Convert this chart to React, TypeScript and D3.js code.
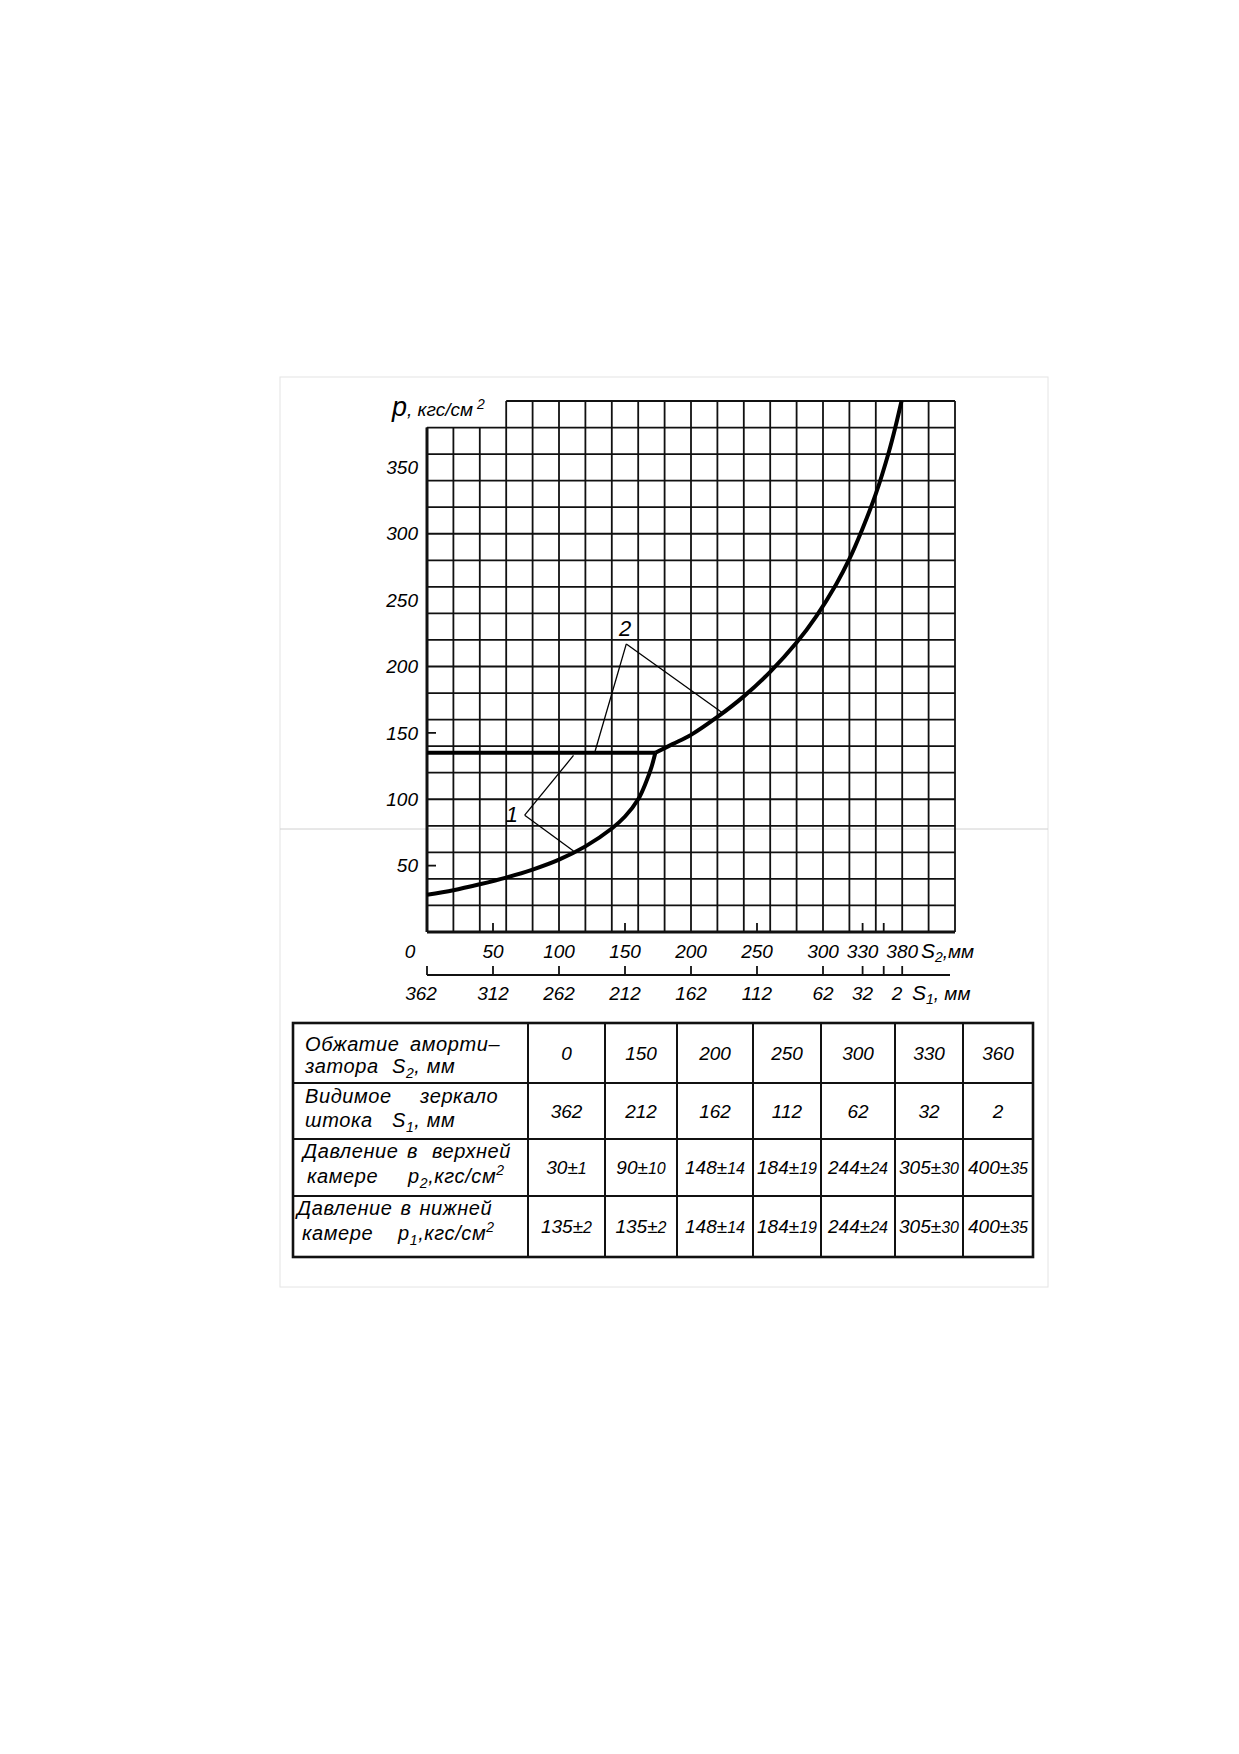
import React, { useRef, useEffect } from 'react';
import * as d3 from 'd3';

// lower curve (upper chamber pressure, p2) up to the junction
const lowerS2 = [0, 20, 40, 60, 80, 100, 120, 140, 150, 160, 166, 170, 173];
const lowerP = [28, 31.5, 36, 41, 47, 54.5, 64.5, 78, 87, 100, 113, 124, 135];
// flat part (lower chamber pressure, p1)
const flatS2 = [0, 173];
const flatP = [135, 135];
// common rising branch
const upperS2 = [173, 186, 200, 220, 240, 260, 280, 295, 310, 320, 330, 340, 350, 355, 359.5];
const upperP = [135, 141.5, 148.5, 162, 177.5, 196, 218, 238, 262, 281, 304, 330, 362, 381, 400];

const pTickValues = [50, 100, 150, 200, 250, 300, 350];
const pShortTicks = [50, 150];
const s2ShortTicks = [50, 150, 250, 330, 346];
const s2LabelPos = [0, 50, 100, 150, 200, 250, 300, 330, 360];
const s2Labels = ['0', '50', '100', '150', '200', '250', '300', '330', '380'];
const s1TickPos = [0, 50, 100, 150, 200, 250, 300, 330, 346, 360];
const s1LabelPos = [0, 50, 100, 150, 200, 250, 300, 330, 356];
const s1Labels = ['362', '312', '262', '212', '162', '112', '62', '32', '2'];

// table
const tableS2 = ['0', '150', '200', '250', '300', '330', '360'];
const tableS1 = ['362', '212', '162', '112', '62', '32', '2'];
const p2Values = ['30', '90', '148', '184', '244', '305', '400'];
const p2Tol = ['1', '10', '14', '19', '24', '30', '35'];
const p1Values = ['135', '135', '148', '184', '244', '305', '400'];
const p1Tol = ['2', '2', '14', '19', '24', '30', '35'];

const FONT = "'Liberation Sans', 'DejaVu Sans', sans-serif";

type Part = [string, ('sub' | 'sup')?];

const ShockAbsorberChart: React.FC = () => {
  const svgRef = useRef<SVGSVGElement | null>(null);

  useEffect(() => {
    const svg = d3.select(svgRef.current);
    svg.selectAll('*').remove();

    const width = 1239;
    const height = 1754;
    svg.attr('width', width).attr('height', height);

    svg.append('rect').attr('width', width).attr('height', height).attr('fill', '#fff');

    // faint scan page border and artifact line
    svg.append('rect')
      .attr('x', 280).attr('y', 377).attr('width', 768).attr('height', 910)
      .attr('fill', 'none').attr('stroke', '#e4e4e4').attr('stroke-width', 1);
    svg.append('line')
      .attr('x1', 280).attr('x2', 1048).attr('y1', 829).attr('y2', 829)
      .attr('stroke', '#d0d0d0').attr('stroke-width', 1);

    const x = d3.scaleLinear().domain([0, 400]).range([427, 955]);
    const y = d3.scaleLinear().domain([0, 400]).range([932, 401]);

    const g = svg.append('g').attr('font-family', FONT).attr('font-style', 'italic');

    // grid
    const grid = g.append('g').attr('stroke', '#111').attr('stroke-width', 1.8);
    d3.range(0, 401, 20).forEach(v => {
      grid.append('line')
        .attr('x1', x(v)).attr('x2', x(v))
        .attr('y1', y(0)).attr('y2', y(v < 60 ? 380 : 400));
    });
    d3.range(20, 401, 20).forEach(v => {
      grid.append('line')
        .attr('x1', x(v === 400 ? 60 : 0)).attr('x2', x(400))
        .attr('y1', y(v)).attr('y2', y(v));
    });
    // heavier left and bottom border
    g.append('line').attr('x1', x(0)).attr('x2', x(0)).attr('y1', y(0)).attr('y2', y(380))
      .attr('stroke', '#111').attr('stroke-width', 3);
    g.append('line').attr('x1', x(0)).attr('x2', x(400)).attr('y1', y(0)).attr('y2', y(0))
      .attr('stroke', '#111').attr('stroke-width', 3);

    // short ticks
    pShortTicks.forEach(v => {
      g.append('line').attr('x1', x(0)).attr('x2', x(0) + 9).attr('y1', y(v)).attr('y2', y(v))
        .attr('stroke', '#111').attr('stroke-width', 1.8);
    });
    s2ShortTicks.forEach(v => {
      g.append('line').attr('x1', x(v)).attr('x2', x(v)).attr('y1', y(0)).attr('y2', y(0) - 9)
        .attr('stroke', '#111').attr('stroke-width', 1.8);
    });

    // y tick labels
    pTickValues.forEach(v => {
      g.append('text')
        .attr('x', 418).attr('y', y(v))
        .attr('dy', '0.35em')
        .attr('text-anchor', 'end')
        .attr('font-size', 19)
        .text(String(v));
    });

    // y axis title
    const yt = g.append('text').attr('x', 392).attr('y', 416);
    yt.append('tspan').attr('font-size', 27).text('p');
    yt.append('tspan').attr('font-size', 19).text(', кгс/см');
    yt.append('tspan').attr('font-size', 14).attr('dy', -7).text(' 2');

    // S2 labels
    s2LabelPos.forEach((v, i) => {
      g.append('text')
        .attr('x', x(v) + (i === 0 ? -17 : 0)).attr('y', 958)
        .attr('text-anchor', 'middle')
        .attr('font-size', 19)
        .text(s2Labels[i]);
    });
    const s2t = g.append('text').attr('x', 921).attr('y', 958).attr('font-size', 19);
    s2t.append('tspan').attr('font-size', 21).text('S');
    s2t.append('tspan').attr('font-size', 14).attr('dy', 4).text('2');
    s2t.append('tspan').attr('dy', -4).text(',мм');

    // S1 axis
    g.append('line').attr('x1', x(0)).attr('x2', 950).attr('y1', 975).attr('y2', 975)
      .attr('stroke', '#111').attr('stroke-width', 2.2);
    s1TickPos.forEach(v => {
      g.append('line').attr('x1', x(v)).attr('x2', x(v)).attr('y1', 975).attr('y2', 966)
        .attr('stroke', '#111').attr('stroke-width', 1.8);
    });
    s1LabelPos.forEach((v, i) => {
      g.append('text')
        .attr('x', x(v) + (i === 0 ? -6 : 0)).attr('y', 1000)
        .attr('text-anchor', 'middle')
        .attr('font-size', 19)
        .text(s1Labels[i]);
    });
    const s1t = g.append('text').attr('x', 912).attr('y', 1000).attr('font-size', 19);
    s1t.append('tspan').attr('font-size', 21).text('S');
    s1t.append('tspan').attr('font-size', 14).attr('dy', 4).text('1');
    s1t.append('tspan').attr('dy', -4).text(', мм');

    // curves
    const line = d3.line<[number, number]>()
      .x(d => x(d[0]))
      .y(d => y(d[1]))
      .curve(d3.curveCatmullRom.alpha(0.5));

    const curves: [number[], number[]][] = [
      [lowerS2, lowerP],
      [flatS2, flatP],
      [upperS2, upperP],
    ];
    curves.forEach(([xs, ps]) => {
      g.append('path')
        .attr('d', line(xs.map((v, i) => [v, ps[i]] as [number, number])))
        .attr('fill', 'none')
        .attr('stroke', '#000')
        .attr('stroke-width', 4)
        .attr('stroke-linejoin', 'round');
    });

    // leader lines
    const leaders = [
      { label: '1', at: [69, 89], vertex: [74, 88], ends: [[111, 133], [111, 61]] },
      { label: '2', at: [150, 229], vertex: [151, 217], ends: [[127, 135], [224, 165]] },
    ];
    leaders.forEach(l => {
      l.ends.forEach(e => {
        g.append('line')
          .attr('x1', x(l.vertex[0])).attr('y1', y(l.vertex[1]))
          .attr('x2', x(e[0])).attr('y2', y(e[1]))
          .attr('stroke', '#000').attr('stroke-width', 1.3);
      });
      g.append('text')
        .attr('x', x(l.at[0])).attr('y', y(l.at[1]))
        .attr('dy', '0.35em')
        .attr('text-anchor', l.label === '1' ? 'end' : 'middle')
        .attr('font-size', 22)
        .text(l.label);
    });

    // table
    const colX = [293, 528, 605, 677, 753, 821, 895, 963, 1033];
    const rowY = [1023, 1083, 1139, 1196, 1257];
    const tbl = g.append('g');
    tbl.append('rect')
      .attr('x', colX[0]).attr('y', rowY[0])
      .attr('width', colX[8] - colX[0]).attr('height', rowY[4] - rowY[0])
      .attr('fill', 'none').attr('stroke', '#111').attr('stroke-width', 2.6);
    colX.slice(1, -1).forEach(cx => {
      tbl.append('line').attr('x1', cx).attr('x2', cx).attr('y1', rowY[0]).attr('y2', rowY[4])
        .attr('stroke', '#111').attr('stroke-width', 2);
    });
    rowY.slice(1, -1).forEach(ry => {
      tbl.append('line').attr('x1', colX[0]).attr('x2', colX[8]).attr('y1', ry).attr('y2', ry)
        .attr('stroke', '#111').attr('stroke-width', 2);
    });

    // row header lines: baseline and words [preferred x, parts]
    const headerLines: { y: number; words: [number, Part[]][] }[] = [
      { y: 1051, words: [[305, [['Обжатие']]], [410, [['аморти–']]]] },
      { y: 1073, words: [[305, [['затора']]], [392, [['S'], ['2', 'sub'], [', мм']]]] },
      { y: 1103, words: [[305, [['Видимое']]], [420, [['зеркало']]]] },
      { y: 1127, words: [[305, [['штока']]], [392, [['S'], ['1', 'sub'], [', мм']]]] },
      { y: 1158, words: [[303, [['Давление']]], [407, [['в']]], [432, [['верхней']]]] },
      { y: 1183, words: [[307, [['камере']]], [408, [['p'], ['2', 'sub'], [',кгс/см'], ['2', 'sup']]]] },
      { y: 1215, words: [[297, [['Давление']]], [395, [['в']]], [415, [['нижней']]]] },
      { y: 1240, words: [[302, [['камере']]], [398, [['p'], ['1', 'sub'], [',кгс/см'], ['2', 'sup']]]] },
    ];
    headerLines.forEach(hl => {
      let prevEnd = 0;
      hl.words.forEach(([wx, parts]) => {
        const startX = Math.max(wx, prevEnd + 8);
        const t = tbl.append('text')
          .attr('x', startX).attr('y', hl.y)
          .attr('font-size', 20)
          .attr('letter-spacing', 0.6);
        let shift = 0;
        parts.forEach(([s, kind]) => {
          const ts = t.append('tspan').text(s);
          if (kind === 'sub') {
            ts.attr('font-size', 14).attr('dy', 5 - shift);
            shift = 5;
          } else if (kind === 'sup') {
            ts.attr('font-size', 14).attr('dy', -8 - shift);
            shift = -8;
          } else if (shift !== 0) {
            ts.attr('dy', -shift);
            shift = 0;
          }
        });
        const node = t.node() as SVGTextElement | null;
        const w = node ? node.getComputedTextLength() : 0;
        prevEnd = startX + w;
      });
    });

    const cellCx = (i: number) => (colX[i + 1] + colX[i + 2]) / 2;
    const rowCy = (r: number) => (rowY[r] + rowY[r + 1]) / 2;

    [tableS2, tableS1].forEach((row, r) => {
      row.forEach((v, i) => {
        tbl.append('text')
          .attr('x', cellCx(i)).attr('y', rowCy(r))
          .attr('dy', '0.35em')
          .attr('text-anchor', 'middle')
          .attr('font-size', 19)
          .text(v);
      });
    });
    [[p2Values, p2Tol], [p1Values, p1Tol]].forEach(([vals, tols], k) => {
      vals.forEach((v, i) => {
        const t = tbl.append('text')
          .attr('x', cellCx(i)).attr('y', rowCy(k + 2))
          .attr('dy', '0.35em')
          .attr('text-anchor', 'middle')
          .attr('font-size', 19);
        t.append('tspan').text(v + '±');
        t.append('tspan').attr('font-size', 16).text(tols[i]);
      });
    });
  }, []);

  return (
    <svg ref={svgRef} style={{ position: 'absolute', left: 0, top: 0, display: 'block' }}></svg>
  );
};

export default function App() {
  return <ShockAbsorberChart />;
}
